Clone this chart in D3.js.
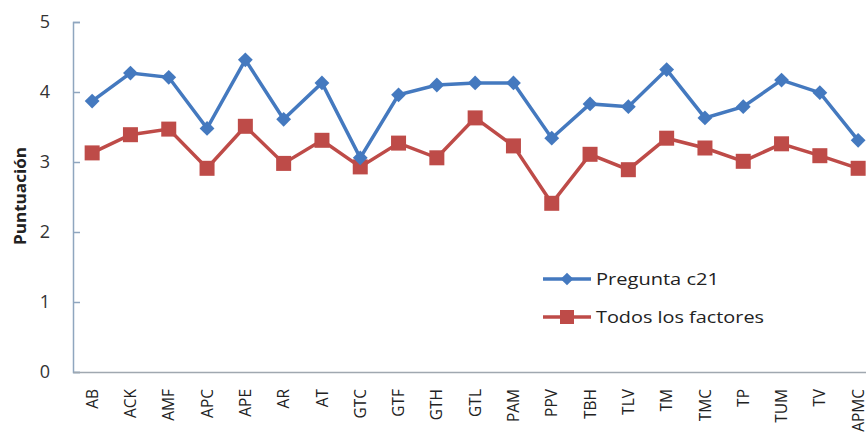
<!DOCTYPE html>
<html><head><meta charset="utf-8">
<script src="https://cdn.jsdelivr.net/npm/d3@7/dist/d3.min.js"></script>
<style>body{margin:0;background:#fff;}svg{display:block;}text{font-family:"Open Sans","Lato",sans-serif;}</style>
</head><body>
<svg id="c" width="866" height="432"></svg>
<script>
const categories = ["AB","ACK","AMF","APC","APE","AR","AT","GTC","GTF","GTH","GTL","PAM","PPV","TBH","TLV","TM","TMC","TP","TUM","TV","APMC"];
const preguntaC21 = [3.87,4.27,4.21,3.48,4.46,3.61,4.13,3.06,3.96,4.10,4.13,4.13,3.34,3.83,3.79,4.32,3.63,3.79,4.17,3.99,3.31];
const todosFactores = [3.13,3.39,3.47,2.91,3.51,2.98,3.31,2.93,3.27,3.06,3.63,3.23,2.41,3.11,2.89,3.34,3.20,3.01,3.26,3.09,2.91];
const yTicks = [0,1,2,3,4,5];
const seriesNames = ["Pregunta c21","Todos los factores"];

const svg = d3.select("#c");
const x0 = 73, bw = 38.3;
const x = d3.scaleBand().domain(categories).range([x0, x0 + bw*categories.length]).padding(0);
const y = d3.scaleLinear().domain([0,5]).range([372,22]);

// y axis
const ya = svg.append("g").attr("transform",`translate(${x0},0)`)
  .call(d3.axisLeft(y).tickValues(yTicks).tickSize(-7).tickPadding(23).tickFormat(d3.format("d")));
ya.select(".domain").attr("stroke","#8fa6bf").attr("stroke-width",1.5);
ya.selectAll(".tick line").attr("stroke","#8fa6bf").attr("stroke-width",1.5);
ya.selectAll(".tick text").attr("font-size",18).attr("fill","#333");

// x axis
const xa = svg.append("g").attr("transform","translate(0,372)")
  .call(d3.axisBottom(x).tickSize(0).tickPadding(0));
xa.select(".domain").attr("stroke","#a0a8b0").attr("stroke-width",1.5);
xa.selectAll(".tick text").attr("font-size",15.5).attr("fill","#222")
  .attr("transform","rotate(-90)").attr("text-anchor","end")
  .attr("x",-17).attr("y",0).attr("dy","0.36em");

svg.append("text").attr("transform","translate(21,196) rotate(-90)")
  .attr("text-anchor","middle").attr("dy","0.35em").attr("font-size",15.5).attr("font-weight","bold").attr("fill","#222")
  .attr("textLength",98).attr("lengthAdjust","spacingAndGlyphs").text("Puntuación");

const cx = d => x(d) + x.bandwidth()/2;
const line = d3.line().x((d,i)=>cx(categories[i])).y(d=>y(d));
const blue = "#4479bf", red = "#be4b48";

svg.append("path").datum(todosFactores).attr("d",line).attr("fill","none").attr("stroke",red).attr("stroke-width",3.5);
svg.append("path").datum(preguntaC21).attr("d",line).attr("fill","none").attr("stroke",blue).attr("stroke-width",3.5);

const diamond = d3.symbol().type(d3.symbolSquare).size(110);
svg.append("g").selectAll("rect").data(todosFactores).join("rect")
  .attr("x",(d,i)=>cx(categories[i])-7.5).attr("y",d=>y(d)-7.5).attr("width",15).attr("height",15).attr("fill",red);
svg.append("g").selectAll("path").data(preguntaC21).join("path")
  .attr("d",diamond).attr("fill",blue)
  .attr("transform",(d,i)=>`translate(${cx(categories[i])},${y(d)}) rotate(45)`);

// legend
const lg = svg.append("g");
const ly = [279,317];
const lw = [123,168];
[blue,red].forEach((c,i)=>{
  lg.append("line").attr("x1",543).attr("x2",591).attr("y1",ly[i]).attr("y2",ly[i]).attr("stroke",c).attr("stroke-width",3.5);
  if(i===0) lg.append("path").attr("d",d3.symbol().type(d3.symbolSquare).size(80)).attr("fill",c).attr("transform",`translate(567,${ly[i]}) rotate(45)`);
  else lg.append("rect").attr("x",560).attr("y",ly[i]-7).attr("width",14).attr("height",14).attr("fill",c);
  lg.append("text").attr("x",596).attr("y",ly[i]).attr("dy","0.35em").attr("font-size",17).attr("fill","#222")
    .attr("textLength",lw[i]).attr("lengthAdjust","spacingAndGlyphs").text(seriesNames[i]);
});
</script>
</body></html>
